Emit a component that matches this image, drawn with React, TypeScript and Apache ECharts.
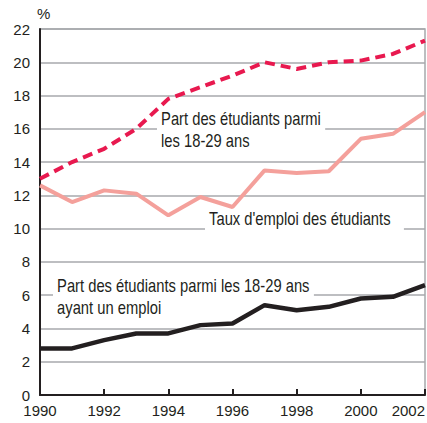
import React, { useEffect, useRef } from "react";
import * as echarts from "echarts";

const years = [1990, 1991, 1992, 1993, 1994, 1995, 1996, 1997, 1998, 1999, 2000, 2001, 2002];
const partEtudiants = [13.0, 14.0, 14.8, 16.0, 17.8, 18.5, 19.2, 20.0, 19.6, 20.0, 20.1, 20.5, 21.3];
const tauxEmploi = [12.6, 11.6, 12.3, 12.1, 10.8, 11.9, 11.3, 13.5, 13.35, 13.45, 15.4, 15.7, 17.0];
const partAvecEmploi = [2.8, 2.8, 3.3, 3.7, 3.7, 4.2, 4.3, 5.4, 5.1, 5.3, 5.8, 5.9, 6.6];

const labelPart = "Part des étudiants parmi\nles 18-29 ans";
const labelTaux = "Taux d'emploi des étudiants";
const labelEmploi = "Part des étudiants parmi les 18-29 ans\nayant un emploi";

const FONT = "'Liberation Sans', Arial, Helvetica, sans-serif";

export default function App() {
  const ref = useRef<HTMLDivElement>(null);
  useEffect(() => {
    if (!ref.current) return;
    const chart = echarts.init(ref.current, null, { renderer: "svg" });
    const toPairs = (arr: number[]) => years.map((y, i) => [y, arr[i]]);
    const labelStyle = (text: string, padRight = 5) => ({
      text,
      font: `18px ${FONT}`,
      fill: "#231f20",
      lineHeight: 22,
      backgroundColor: "#fff",
      padding: [1, padRight, 1, 5],
      textVerticalAlign: "top",
    });
    chart.setOption({
      animation: false,
      grid: {
        left: 40,
        right: 2,
        top: 29,
        bottom: 28,
        outerBoundsMode: "none",
        containLabel: false,
        show: true,
        borderColor: "#a7a9ac",
        borderWidth: 1.5,
        backgroundColor: "transparent",
      },
      xAxis: {
        type: "value",
        min: 1990,
        max: 2002,
        interval: 2,
        axisLine: { show: true, onZero: false, lineStyle: { color: "#231f20", width: 2 } },
        axisTick: { show: true, inside: true, length: 6, lineStyle: { color: "#231f20", width: 2 } },
        splitLine: { show: false },
        axisLabel: {
          color: "#231f20",
          fontSize: 15,
          fontFamily: FONT,
          margin: 8,
          hideOverlap: false,
          alignMaxLabel: "right",
          formatter: (v: number) => String(v),
        },
      },
      yAxis: {
        type: "value",
        min: 0,
        max: 22,
        interval: 2,
        axisLine: { show: true, onZero: false, lineStyle: { color: "#231f20", width: 2 } },
        axisTick: { show: false },
        splitLine: { show: true, lineStyle: { color: "#a7a9ac", width: 1.5 } },
        axisLabel: { color: "#231f20", fontSize: 15, fontFamily: FONT, margin: 10 },
      },
      series: [
        {
          type: "line",
          data: toPairs(partEtudiants),
          symbol: "none",
          lineStyle: { color: "#e8194f", width: 4, type: [10, 6] },
          z: 3,
        },
        {
          type: "line",
          data: toPairs(tauxEmploi),
          symbol: "none",
          lineStyle: { color: "#f4a09b", width: 4 },
          z: 3,
        },
        {
          type: "line",
          data: toPairs(partAvecEmploi),
          symbol: "none",
          lineStyle: { color: "#231f20", width: 4.5 },
          z: 3,
        },
      ],
      graphic: [
        { type: "text", x: 37, y: 6, z: 1, style: { text: "%", font: `15px ${FONT}`, fill: "#231f20" } },
        { type: "text", x: 157, y: 106, z: 1, scaleX: 0.82, style: labelStyle(labelPart) },
        { type: "text", x: 205, y: 206, z: 1, scaleX: 0.82, style: labelStyle(labelTaux, 16) },
        { type: "text", x: 53, y: 273, z: 1, scaleX: 0.82, style: labelStyle(labelEmploi) },
      ],
    });
    return () => chart.dispose();
  }, []);
  return <div ref={ref} style={{ width: 427, height: 423, position: "absolute", left: 0, top: 0 }} />;
}
